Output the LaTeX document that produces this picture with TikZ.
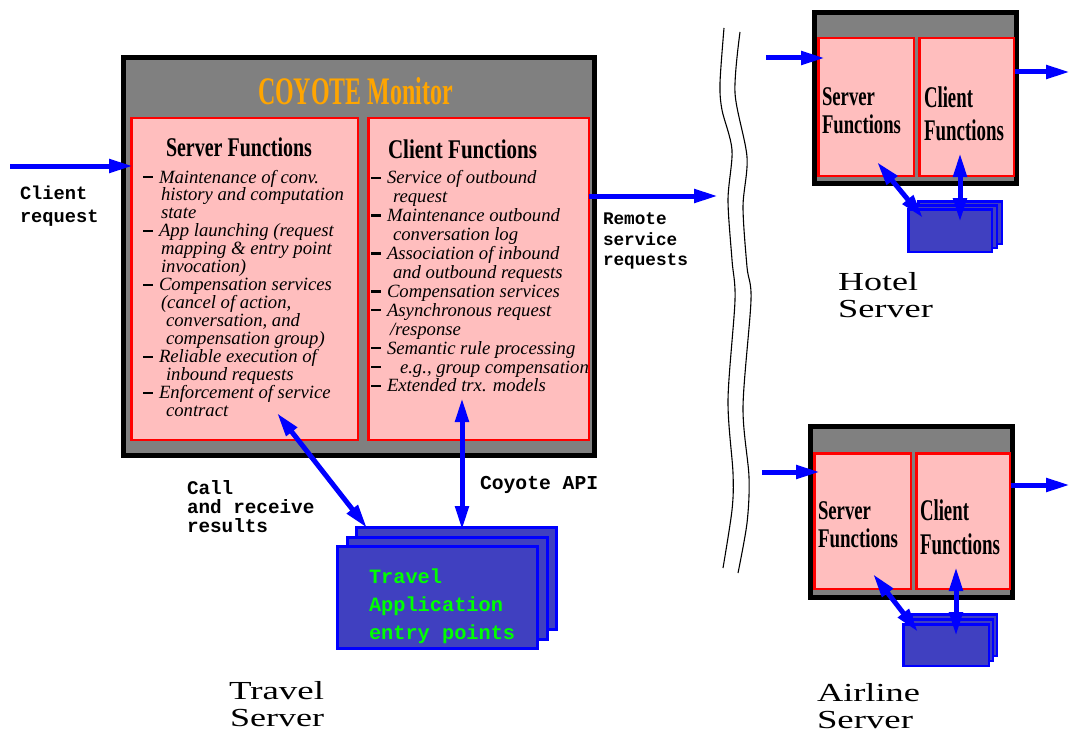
\documentclass[tikz,border=0pt]{standalone}
\usepackage{fontspec}
\setmainfont{Liberation Serif}
\setmonofont{Liberation Mono}
\usepackage{graphicx}
\usetikzlibrary{arrows.meta}
\definecolor{pinkf}{RGB}{255,190,190}
\definecolor{grayf}{RGB}{128,128,128}
\definecolor{stackf}{RGB}{64,64,192}
\definecolor{orng}{RGB}{255,165,0}
\definecolor{grn}{RGB}{0,255,0}
\newcommand{\fitw}[2]{\resizebox{#1}{\height}{#2}}
\newcommand{\itm}[1]{\makebox[16pt][l]{\rule[4.6pt]{9.5pt}{2.2pt}}#1}
\newcommand{\itmw}[1]{\makebox[29pt][l]{\rule[4.6pt]{9.5pt}{2.2pt}}#1}
\tikzset{
  monbox/.style={draw=black, fill=grayf, line width=5pt, inner sep=0pt, outer sep=0pt, anchor=north west},
  fnbox/.style={draw=red, fill=pinkf, line width=2.5pt, inner sep=0pt, outer sep=0pt, anchor=north west},
  stkbig/.style={draw=blue, fill=stackf, line width=3pt, inner sep=0pt, outer sep=0pt, anchor=north west, minimum width=200pt, minimum height=102pt},
  stkhot/.style={draw=blue, fill=stackf, line width=2.5pt, inner sep=0pt, outer sep=0pt, anchor=north west, minimum width=83.5pt, minimum height=42.5pt},
  stkair/.style={draw=blue, fill=stackf, line width=2.5pt, inner sep=0pt, outer sep=0pt, anchor=north west, minimum width=85.5pt, minimum height=41.5pt},
  arr/.style={draw=blue, line width=5pt, -{Triangle[length=24pt,width=13pt]}},
  darr/.style={draw=blue, line width=5pt, {Triangle[length=24pt,width=13pt]}-{Triangle[length=24pt,width=13pt]}},
  txt/.style={inner sep=0pt, outer sep=0pt, anchor=base west},
  itl/.style={txt, font=\fontsize{18.7}{18.7}\selectfont\itshape},
  monoa/.style={txt, font=\fontsize{18.7}{18.7}\selectfont\ttfamily\bfseries},
  monob/.style={txt, font=\fontsize{17.7}{17.7}\selectfont\ttfamily\bfseries},
  monoc/.style={txt, font=\fontsize{19.3}{19.3}\selectfont\ttfamily\bfseries},
  monog/.style={txt, text=grn, font=\fontsize{20.3}{20.3}\selectfont\ttfamily\bfseries},
  headmain/.style={txt, font=\fontsize{27}{27}\selectfont\bfseries},
  headsrv/.style={txt, font=\fontsize{27}{27}\selectfont\bfseries},
  headcli/.style={txt, font=\fontsize{30}{30}\selectfont\bfseries},
  bigl/.style={txt, font=\fontsize{26}{26}\selectfont},
  wave/.style={draw=black, line width=1.1pt}
}
\begin{document}
\begin{tikzpicture}[x=1pt,y=-1pt]
\useasboundingbox (0,0) rectangle (1070,733);

% ---------- Travel server: COYOTE monitor ----------
\node[monbox, minimum width=471pt, minimum height=398pt] (mon) at (123.5,57.5) {};
\node[fnbox, minimum width=226.5pt, minimum height=321.5pt] (ms) at (131.25,118.25) {};
\node[fnbox, minimum width=220.5pt, minimum height=321.5pt] (mc) at (368.25,118.25) {};
\node[txt, text=orng, font=\fontsize{39}{39}\selectfont\bfseries] (title) at (258,104) {\fitw{195pt}{COYOTE Monitor}};
\node[headmain] (msh) at (166,156.7) {\fitw{146pt}{Server Functions}};
\node[headmain] (mch) at (388,158) {\fitw{149pt}{Client Functions}};

\foreach \xx/\lntext [count=\i] in {143/\itm{Maintenance of conv.}, 161/history and computation, 161/state,
  143/\itm{App launching (request}, 161/mapping \& entry point, 161/invocation),
  143/\itm{Compensation services}, 161/{(cancel of action,}, 166/{conversation, and}, 166/compensation group),
  143/\itm{Reliable execution of}, 166/inbound requests, 143/\itm{Enforcement of service}, 166/contract}
  \node[itl] (sf\i) at (\xx,{183+17.95*(\i-1)}) {\lntext};

\foreach \xx/\lntext [count=\i] in {371/\itm{Service of outbound}, 393/request, 371/\itm{Maintenance outbound},
  393/conversation log, 371/\itm{Association of inbound}, 393/and outbound requests,
  371/\itm{Compensation services}, 371/\itm{Asynchronous request}, 390/{/response},
  371/\itm{Semantic rule processing}, 371/{\itmw{e.g., group compensation}}, 371/\itm{Extended trx. models}}
  \node[itl] (cf\i) at (\xx,{183.3+18.97*(\i-1)}) {\lntext};

% ---------- Travel application stack ----------
\node[stkbig] (tb) at (356.5,527.5) {};
\node[stkbig] (tm) at (347,537) {};
\node[stkbig] (tf) at (337.5,546.5) {};
\node[monog] (g1) at (369,583) {Travel};
\node[monog] (g2) at (369,611) {Application};
\node[monog] (g3) at (369,639) {entry points};

% ---------- labels ----------
\node[monoa] (cr1) at (20,199) {Client};
\node[monoa] (cr2) at (20,222) {request};
\node[monob] (rs1) at (603,224) {Remote};
\node[monob] (rs2) at (603,245) {service};
\node[monob] (rs3) at (603,265) {requests};
\node[monoc] (cl1) at (187,494) {Call};
\node[monoc] (cl2) at (187,513) {and receive};
\node[monoc] (cl3) at (187,532) {results};
\node[monoc, font=\fontsize{19.7}{19.7}\selectfont\ttfamily\bfseries] (api) at (480,489) {Coyote API};
\node[bigl] (ts1) at (229,699) {\fitw{95pt}{Travel}};
\node[bigl] (ts2) at (230,726) {\fitw{94pt}{Server}};

% ---------- Hotel server ----------
\node[monbox, minimum width=202pt, minimum height=171pt] (hot) at (814.5,12.5) {};
\node[fnbox, minimum width=95.5pt, minimum height=137.5pt] (hs) at (818.25,38.25) {};
\node[fnbox, minimum width=94.5pt, minimum height=137.5pt] (hc) at (919.25,38.25) {};
\node[headsrv] (hs1) at (822,106) {\fitw{53pt}{Server}};
\node[headsrv] (hs2) at (822,133) {\fitw{79pt}{Functions}};
\node[headcli] (hc1) at (924,107) {\fitw{49pt}{Client}};
\node[headcli] (hc2) at (924,140) {\fitw{80pt}{Functions}};
\node[stkhot] (hb) at (918.25,201.25) {};
\node[stkhot] (hm) at (913.25,205.25) {};
\node[stkhot] (hf) at (908.25,209.25) {};
\node[bigl] (hl1) at (838,290) {\fitw{80pt}{Hotel}};
\node[bigl] (hl2) at (838,317) {\fitw{95pt}{Server}};

% ---------- Airline server ----------
\node[monbox, minimum width=202pt, minimum height=171pt] (air) at (810.5,426.5) {};
\node[fnbox, minimum width=96.5pt, minimum height=135.5pt] (as) at (814.25,453.25) {};
\node[fnbox, minimum width=93.5pt, minimum height=135.5pt] (ac) at (916.25,453.25) {};
\node[headsrv] (as1) at (818,519) {\fitw{53pt}{Server}};
\node[headsrv] (as2) at (818,547) {\fitw{80pt}{Functions}};
\node[headcli] (ac1) at (920,520) {\fitw{49pt}{Client}};
\node[headcli] (ac2) at (920,554) {\fitw{80pt}{Functions}};
\node[stkair] (ab) at (911.25,614.25) {};
\node[stkair] (am) at (907.25,619.25) {};
\node[stkair] (af) at (903.25,624.25) {};
\node[bigl] (al1) at (817,701) {\fitw{103pt}{Airline}};
\node[bigl] (al2) at (817,728) {\fitw{96pt}{Server}};

% ---------- wavy separator ----------
\draw[wave] plot[smooth] coordinates {(724,28) (720,83) (722,110) (732,150) (728,200) (732,260) (735,300) (728,400) (733,473) (732,510) (723,568)};
\draw[wave] plot[smooth] coordinates {(740,32) (735,93) (747,157) (743,207) (747,267) (751,300) (743,407) (749,477) (747,523) (738,573)};

% ---------- arrows ----------
\coordinate (crs) at (10,166);
\coordinate (cre) at (133,166);
\draw[arr] (crs) -- (cre);
\coordinate (rre) at (718,196);
\draw[arr] (mc.east |- rre) -- (rre);
\coordinate (calA) at (277,413);
\coordinate (calB) at (367,528);
\draw[darr] (calA) -- (calB);
\coordinate (apiA) at (462,398);
\coordinate (apiB) at (462,530);
\draw[darr] (apiA) -- (apiB);

\coordinate (hin1) at (766,58);
\coordinate (hin2) at (825,58);
\draw[arr] (hin1) -- (hin2);
\coordinate (hout1) at (1015,72);
\coordinate (hout2) at (1070,72);
\draw[arr] (hout1) -- (hout2);
\coordinate (hdA) at (877,162);
\coordinate (hdB) at (923,218);
\draw[darr] (hdA) -- (hdB);
\coordinate (hvA) at (960,153);
\coordinate (hvB) at (960,222);
\draw[darr] (hvA) -- (hvB);

\coordinate (ain1) at (762,472);
\coordinate (ain2) at (820,472);
\draw[arr] (ain1) -- (ain2);
\coordinate (aout1) at (1011,485);
\coordinate (aout2) at (1070,485);
\draw[arr] (aout1) -- (aout2);
\coordinate (adA) at (873,574);
\coordinate (adB) at (918,632);
\draw[darr] (adA) -- (adB);
\coordinate (avA) at (956,567);
\coordinate (avB) at (956,636);
\draw[darr] (avA) -- (avB);
\end{tikzpicture}
\end{document}
